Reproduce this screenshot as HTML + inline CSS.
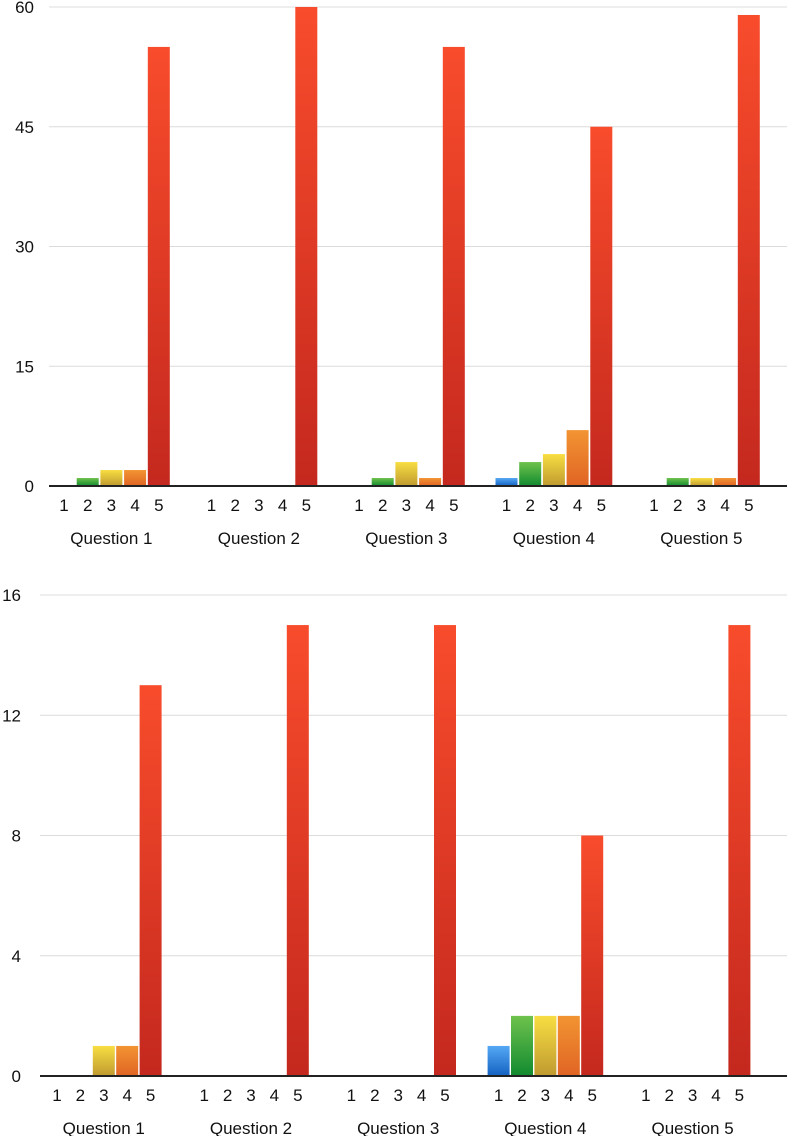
<!DOCTYPE html>
<html><head><meta charset="utf-8"><style>
body{margin:0;background:#fff;width:787px;height:1136px;overflow:hidden;font-family:"Liberation Sans",sans-serif}
svg text{font-family:"Liberation Sans",sans-serif;font-size:17px;fill:#111}
</style></head><body>
<svg id="s" width="787" height="1136">
<defs>
<linearGradient id="g1" x1="0" y1="0" x2="0" y2="1"><stop offset="0" stop-color="#55a8f4"/><stop offset="1" stop-color="#1462c2"/></linearGradient>
<linearGradient id="g2" x1="0" y1="0" x2="0" y2="1"><stop offset="0" stop-color="#6ec24c"/><stop offset="1" stop-color="#118a30"/></linearGradient>
<linearGradient id="g3" x1="0" y1="0" x2="0" y2="1"><stop offset="0" stop-color="#f8de42"/><stop offset="1" stop-color="#bf9a30"/></linearGradient>
<linearGradient id="g4" x1="0" y1="0" x2="0" y2="1"><stop offset="0" stop-color="#f29432"/><stop offset="1" stop-color="#e06424"/></linearGradient>
<linearGradient id="g5" x1="0" y1="0" x2="0" y2="1"><stop offset="0" stop-color="#f84c2c"/><stop offset="1" stop-color="#c4281e"/></linearGradient>
</defs>
</svg>
<script>
const categories = ["Question 1","Question 2","Question 3","Question 4","Question 5"];
const ratings = ["1","2","3","4","5"];
const topValues = [[0,1,2,2,55],[0,0,0,0,60],[0,1,3,1,55],[1,3,4,7,45],[0,1,1,1,59]];
const topTicks = [0,15,30,45,60];
const bottomValues = [[0,0,1,1,13],[0,0,0,0,15],[0,0,0,0,15],[1,2,2,2,8],[0,0,0,0,15]];
const bottomTicks = [0,4,8,12,16];

const svg = document.getElementById('s');
const NS = 'http://www.w3.org/2000/svg';
function mk(tag, attrs, parent){const e=document.createElementNS(NS,tag);for(const k in attrs)e.setAttribute(k,attrs[k]);parent.appendChild(e);return e;}

function chart(name, values, ticks, cfg){
  const g = mk('g',{},svg);
  
  
  const max = ticks[ticks.length-1];
  const y = v => cfg.base - v/max*(cfg.base-cfg.top);
  ticks.forEach(t=>{
    if(t>0){const l=mk('line',{x1:cfg.left,x2:787,y1:y(t),y2:y(t),stroke:'#dcdcdc','stroke-width':1},g);
      
      }
    const tx=mk('text',{x:cfg.labelX,y:y(t)+6,'text-anchor':'end'},g);
    tx.textContent=t;
    
    
  });
  const x = (c,r) => cfg.x0 + c*cfg.groupStep + r*cfg.barStep;
  values.forEach((vals,c)=>{
    vals.forEach((v,r)=>{
      if(v>0){
        const b=mk('rect',{x:x(c,r)-cfg.bw/2,y:y(v),width:cfg.bw,height:cfg.base-y(v),fill:'url(#g'+(r+1)+')'},g);
        
        
      }
      const t=mk('text',{x:x(c,r),y:cfg.base+25,'text-anchor':'middle'},g);
      t.textContent=ratings[r];
      
      
    });
    const ct=mk('text',{x:x(c,2),y:cfg.base+58,'text-anchor':'middle'},g);
    ct.textContent=categories[c];
    
    
  });
  const ax=mk('line',{x1:cfg.left,x2:787,y1:cfg.base,y2:cfg.base,stroke:'#222','stroke-width':2},g);
  
  
}
chart('top-chart', topValues, topTicks, {top:7,base:486,left:49,labelX:34,x0:64,groupStep:147.5,barStep:23.7,bw:22});
chart('bottom-chart', bottomValues, bottomTicks, {top:595,base:1076,left:40,labelX:21,x0:57,groupStep:147.2,barStep:23.4,bw:22});
</script>
</body></html>
